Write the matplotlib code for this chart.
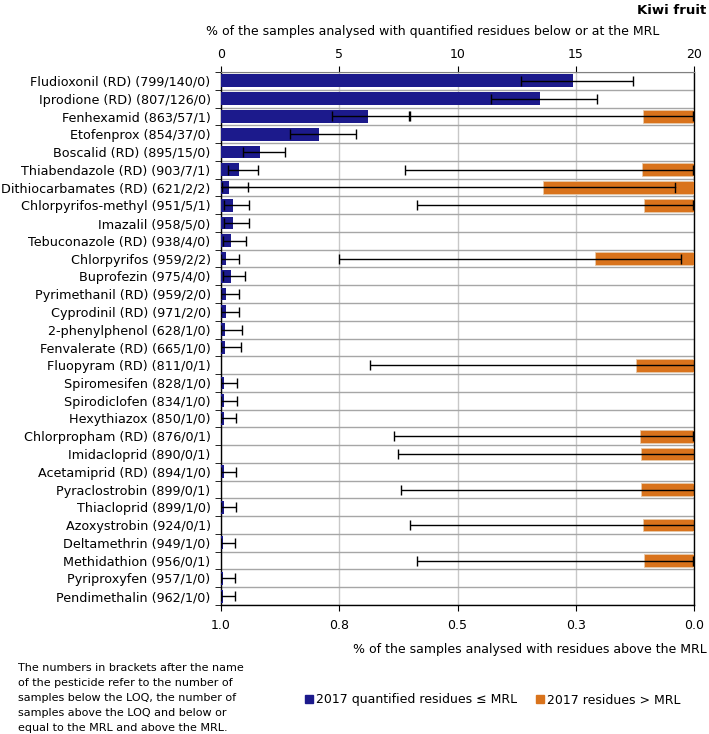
import numpy as np
import matplotlib
matplotlib.use('Agg')
import matplotlib.pyplot as plt
from matplotlib.patches import Patch

nan = np.nan

# pesticide labels (number below LOQ / above LOQ <= MRL / above MRL)
pesticides = [
    'Fludioxonil (RD) (799/140/0)', 'Iprodione (RD) (807/126/0)', 'Fenhexamid (863/57/1)',
    'Etofenprox (854/37/0)', 'Boscalid (RD) (895/15/0)', 'Thiabendazole (RD) (903/7/1)',
    'Dithiocarbamates (RD) (621/2/2)', 'Chlorpyrifos-methyl (951/5/1)', 'Imazalil (958/5/0)',
    'Tebuconazole (RD) (938/4/0)', 'Chlorpyrifos (959/2/2)', 'Buprofezin (975/4/0)',
    'Pyrimethanil (RD) (959/2/0)', 'Cyprodinil (RD) (971/2/0)', '2-phenylphenol (628/1/0)',
    'Fenvalerate (RD) (665/1/0)', 'Fluopyram (RD) (811/0/1)', 'Spiromesifen (828/1/0)',
    'Spirodiclofen (834/1/0)', 'Hexythiazox (850/1/0)', 'Chlorpropham (RD) (876/0/1)',
    'Imidacloprid (890/0/1)', 'Acetamiprid (RD) (894/1/0)', 'Pyraclostrobin (899/0/1)',
    'Thiacloprid (899/1/0)', 'Azoxystrobin (924/0/1)', 'Deltamethrin (949/1/0)',
    'Methidathion (956/0/1)', 'Pyriproxyfen (957/1/0)', 'Pendimethalin (962/1/0)',
]

# % quantified <= MRL, with confidence interval
quant = [14.9, 13.5, 6.2, 4.15, 1.65, 0.77, 0.32, 0.52, 0.52, 0.42, 0.21, 0.41, 0.21, 0.21,
         0.16, 0.15, nan, 0.12, 0.12, 0.118, nan, nan, 0.112, nan, 0.111, nan, 0.105, nan,
         0.104, 0.104]
quant_lo = [12.7, 11.4, 4.7, 2.9, 0.95, 0.31, 0.04, 0.13, 0.13, 0.08, 0.02, 0.08, 0.02, 0.02,
            0.004, 0.004, nan, 0.003, 0.003, 0.003, nan, nan, 0.003, nan, 0.003, nan, 0.003,
            nan, 0.003, 0.003]
quant_hi = [17.4, 15.9, 7.95, 5.7, 2.7, 1.57, 1.14, 1.2, 1.2, 1.07, 0.75, 1.0, 0.75, 0.75,
            0.89, 0.84, nan, 0.67, 0.67, 0.65, nan, nan, 0.62, nan, 0.62, nan, 0.59, nan,
            0.58, 0.58]

# % above MRL, with confidence interval
above = [nan, nan, 0.108, nan, nan, 0.11, 0.32, 0.105, nan, nan, 0.21, nan, nan, nan, nan,
         nan, 0.123, nan, nan, nan, 0.114, 0.112, nan, 0.111, nan, 0.108, nan, 0.105, nan, nan]
above_lo = [nan, nan, 0.003, nan, nan, 0.003, 0.04, 0.003, nan, nan, 0.028, nan, nan, nan, nan,
            nan, 0.001, nan, nan, nan, 0.003, 0.001, nan, 0.001, nan, 0.001, nan, 0.003, nan, nan]
above_hi = [nan, nan, 0.60, nan, nan, 0.61, 1.15, 0.585, nan, nan, 0.75, nan, nan, nan, nan,
            nan, 0.685, nan, nan, nan, 0.635, 0.625, nan, 0.62, nan, 0.60, nan, 0.585, nan, nan]

bottom_ticks = [1.0, 0.75, 0.5, 0.25, 0.0]
bottom_labels = ['1.0', '0.8', '0.5', '0.3', '0.0']

BLUE = '#1c1a8c'
ORANGE = '#d9731c'
TOPMAX = 20.0

fig = plt.figure(figsize=(7.09, 7.34), dpi=100)
ax = fig.add_axes([221 / 709, 1 - 605 / 734, (694 - 221) / 709, (605 - 72) / 734])

y = np.arange(len(pesticides))
quant = np.array(quant)
above = np.array(above)

# blue bars (top scale, % of samples)
ax.barh(y, quant, height=0.72, color=BLUE, zorder=3)
err = np.array([quant - np.array(quant_lo), np.array(quant_hi) - quant])
ax.errorbar(quant, y, xerr=err, fmt='none', ecolor='black', elinewidth=1,
            capsize=3.3, capthick=1, zorder=4)

# orange bars, drawn from the right (bottom scale, reversed, 1% == full width)
def to_top(v):
    return TOPMAX - TOPMAX * np.asarray(v, dtype=float)

ax.barh(y, TOPMAX * above, left=to_top(above), height=0.72, color=ORANGE,
        edgecolor='#e8c9a8', linewidth=0.6, zorder=3)
a_hi = np.minimum(np.array(above_hi), 1.0)
a_x = to_top(above)
a_err = np.array([a_x - to_top(a_hi), to_top(above_lo) - a_x])
clipped = np.array(above_hi) > 1.0
ax.errorbar(a_x[~clipped], y[~clipped], xerr=a_err[:, ~clipped], fmt='none', ecolor='black',
            elinewidth=1, capsize=3.3, capthick=1, zorder=4)
# interval that runs past the axis: line without the left cap
for i in np.where(clipped)[0]:
    ax.plot([0, to_top(above_lo[i])], [y[i], y[i]], color='black', lw=1, zorder=4)
    ax.plot([to_top(above_lo[i])] * 2, [y[i] - 0.26, y[i] + 0.26], color='black', lw=1, zorder=4)

ax.set_xlim(0, TOPMAX)
ax.set_ylim(len(pesticides) - 0.5, -0.5)

# top axis
ax.xaxis.tick_top()
ax.set_xticks([0, 5, 10, 15, 20])
ax.tick_params(axis='x', which='major', length=4, direction='out', labelsize=9, pad=4)
ax.xaxis.grid(True, color='#c8c8c8', lw=1, zorder=0)

# categories and row separators
ax.set_yticks(y)
ax.set_yticklabels(pesticides, fontsize=9.2)
ax.set_yticks(np.arange(len(pesticides) + 1) - 0.5, minor=True)
ax.tick_params(axis='y', which='major', length=0, pad=7.5)
ax.tick_params(axis='y', which='minor', length=4, direction='out')
ax.yaxis.grid(True, which='minor', color='#a6a6a6', lw=1, zorder=0)
ax.set_axisbelow(True)

for s in ['left', 'right', 'bottom']:
    ax.spines[s].set_color('black')
    ax.spines[s].set_linewidth(1)
ax.spines['top'].set_color('#808080')

# bottom axis: % above MRL, reversed
sec = ax.secondary_xaxis('bottom', functions=(lambda x: (TOPMAX - x) / TOPMAX,
                                              lambda v: TOPMAX - TOPMAX * v))
sec.set_xticks(bottom_ticks)
sec.set_xticklabels(bottom_labels)
sec.tick_params(length=4, labelsize=9, pad=6)
sec.spines['bottom'].set_visible(False)

fig.text(706 / 709, 1 - 10 / 734, 'Kiwi fruit', fontsize=9.5, fontweight='bold',
         ha='right', va='center')
fig.text(433 / 709, 1 - 31 / 734,
         '% of the samples analysed with quantified residues below or at the MRL',
         fontsize=9, ha='center', va='center')
fig.text(707 / 709, 1 - 650 / 734, '% of the samples analysed with residues above the MRL',
         fontsize=9, ha='right', va='center')
fig.text(18 / 709, 1 - 698 / 734,
         'The numbers in brackets after the name\nof the pesticide refer to the number of\n'
         'samples below the LOQ, the number of\nsamples above the LOQ and below or\n'
         'equal to the MRL and above the MRL.',
         fontsize=8, ha='left', va='center', linespacing=1.6)

handles = [Patch(color=BLUE, label='2017 quantified residues \u2264 MRL'),
           Patch(color=ORANGE, label='2017 residues > MRL')]
fig.legend(handles=handles, loc='center', bbox_to_anchor=(493 / 709, 1 - 700 / 734), ncol=2,
           frameon=False, fontsize=9, handlelength=0.6, handleheight=0.6, handletextpad=0.3,
           columnspacing=1.5)

fig.savefig('out.png', dpi=100)
